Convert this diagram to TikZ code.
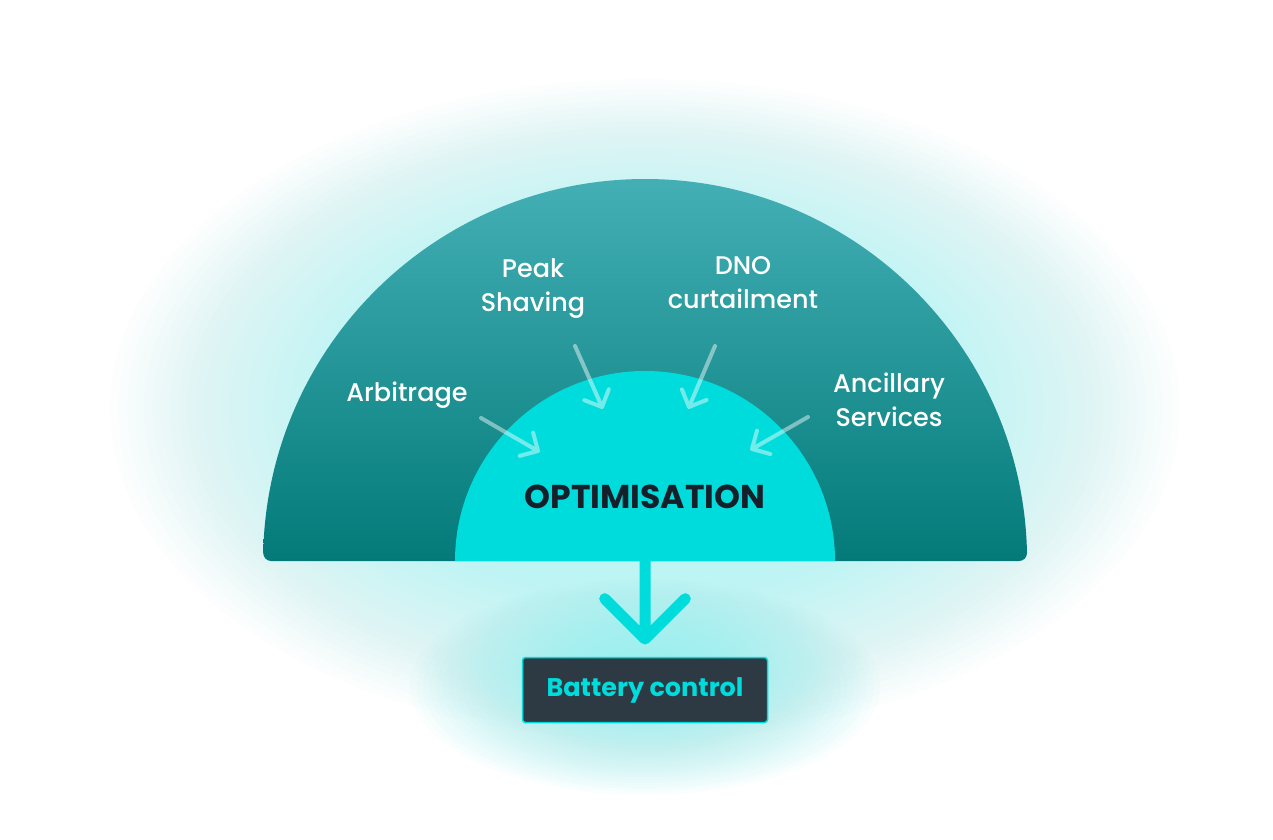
\documentclass[tikz,border=0pt]{standalone}
\usepackage{fontspec}
\setmainfont{Poppins}
\IfFontExistsTF{Poppins Medium}{\newfontfamily\labelfont{Poppins Medium}}{\newfontfamily\labelfont{Poppins}}
\usetikzlibrary{calc}
\definecolor{cyanA}{HTML}{00DCDC}
\definecolor{outerTop}{HTML}{44B0B6}
\definecolor{outerBot}{HTML}{037A79}
\definecolor{glowc}{HTML}{A2F4F4}
\definecolor{boxglowc}{HTML}{8CEFEF}
\definecolor{boxfill}{HTML}{2D3943}
\definecolor{darktext}{HTML}{16202A}
\tikzset{
  label/.style={text=white, align=center, font=\labelfont\fontsize{25.5}{34}\selectfont},
  inarrow/.style={draw=white, draw opacity=0.45, line width=4pt, line cap=round, line join=round},
  downarrow/.style={draw=cyanA, line width=11pt, line cap=round, line join=round},
  batterybox/.style={fill=boxfill, draw=cyanA, line width=1.5pt, rounded corners=3pt,
    minimum width=245pt, minimum height=65pt, text=cyanA, font=\bfseries\fontsize{25.5}{28}\selectfont},
  glowlayer/.style 2 args={fill=#1, fill opacity=#2}
}
\begin{document}
\begin{tikzpicture}[x=1pt,y=1pt]
\useasboundingbox (0,0) rectangle (1273,839);
\fill[white] (0,0) rectangle (1273,839);
% big glow
\foreach \k in {0,...,29}{
  \pgfmathsetmacro{\s}{1-0.016*\k}
  \fill[glowlayer={glowc}{0.03}] (645,430) ellipse [x radius={535*\s}, y radius={330*\s}];
}
% box glow
\foreach \k in {0,...,24}{
  \pgfmathsetmacro{\s}{1-0.028*\k}
  \fill[glowlayer={boxglowc}{0.04}] (645,152) ellipse [x radius={235*\s}, y radius={108*\s}];
}
% outer half disc
\shade[top color=outerTop, bottom color=outerBot]
  (271,278) -- (1019,278) arc[start angle=-90,end angle=0,radius=8]
  arc[start angle=1.2,end angle=178.8,radius=382]
  arc[start angle=180,end angle=270,radius=8] -- cycle;
% inner half disc
\fill[cyanA] (455,278) arc[start angle=180,end angle=0,radius=190] -- cycle;
% labels
\node[label] (arb) at (407,444) {Arbitrage};
\node[label] (peak) at (533,550) {Peak\\Shaving};
\node[label] (dno) at (743,556) {DNO\\curtailment};
\node[label] (anc) at (889,439) {Ancillary\\Services};
\node[text=darktext, font=\bfseries\fontsize{33}{38}\selectfont] (opt) at (645,342) {OPTIMISATION};
\node[batterybox] (bat) at (645,149) {Battery control};
% arrow coordinates
\coordinate (a1s) at (481,421); \coordinate (a1t) at (538,388);
\coordinate (a2s) at (575,493); \coordinate (a2t) at (602,432);
\coordinate (a3s) at (715,493); \coordinate (a3t) at (689,432);
\coordinate (a4s) at (808,422); \coordinate (a4t) at (752,390);
\foreach \i in {1,2,3,4}{
  \draw[inarrow] (a\i s) -- (a\i t) ($(a\i t)!19pt!45:(a\i s)$) -- (a\i t) -- ($(a\i t)!19pt!-45:(a\i s)$);
}
% down arrow
\coordinate (ds) at (645,278); \coordinate (dt) at (645,200);
\draw[downarrow] (ds) -- (dt) ($(dt)!57pt!45:(ds)$) -- (dt) -- ($(dt)!57pt!-45:(ds)$);
\end{tikzpicture}
\end{document}
